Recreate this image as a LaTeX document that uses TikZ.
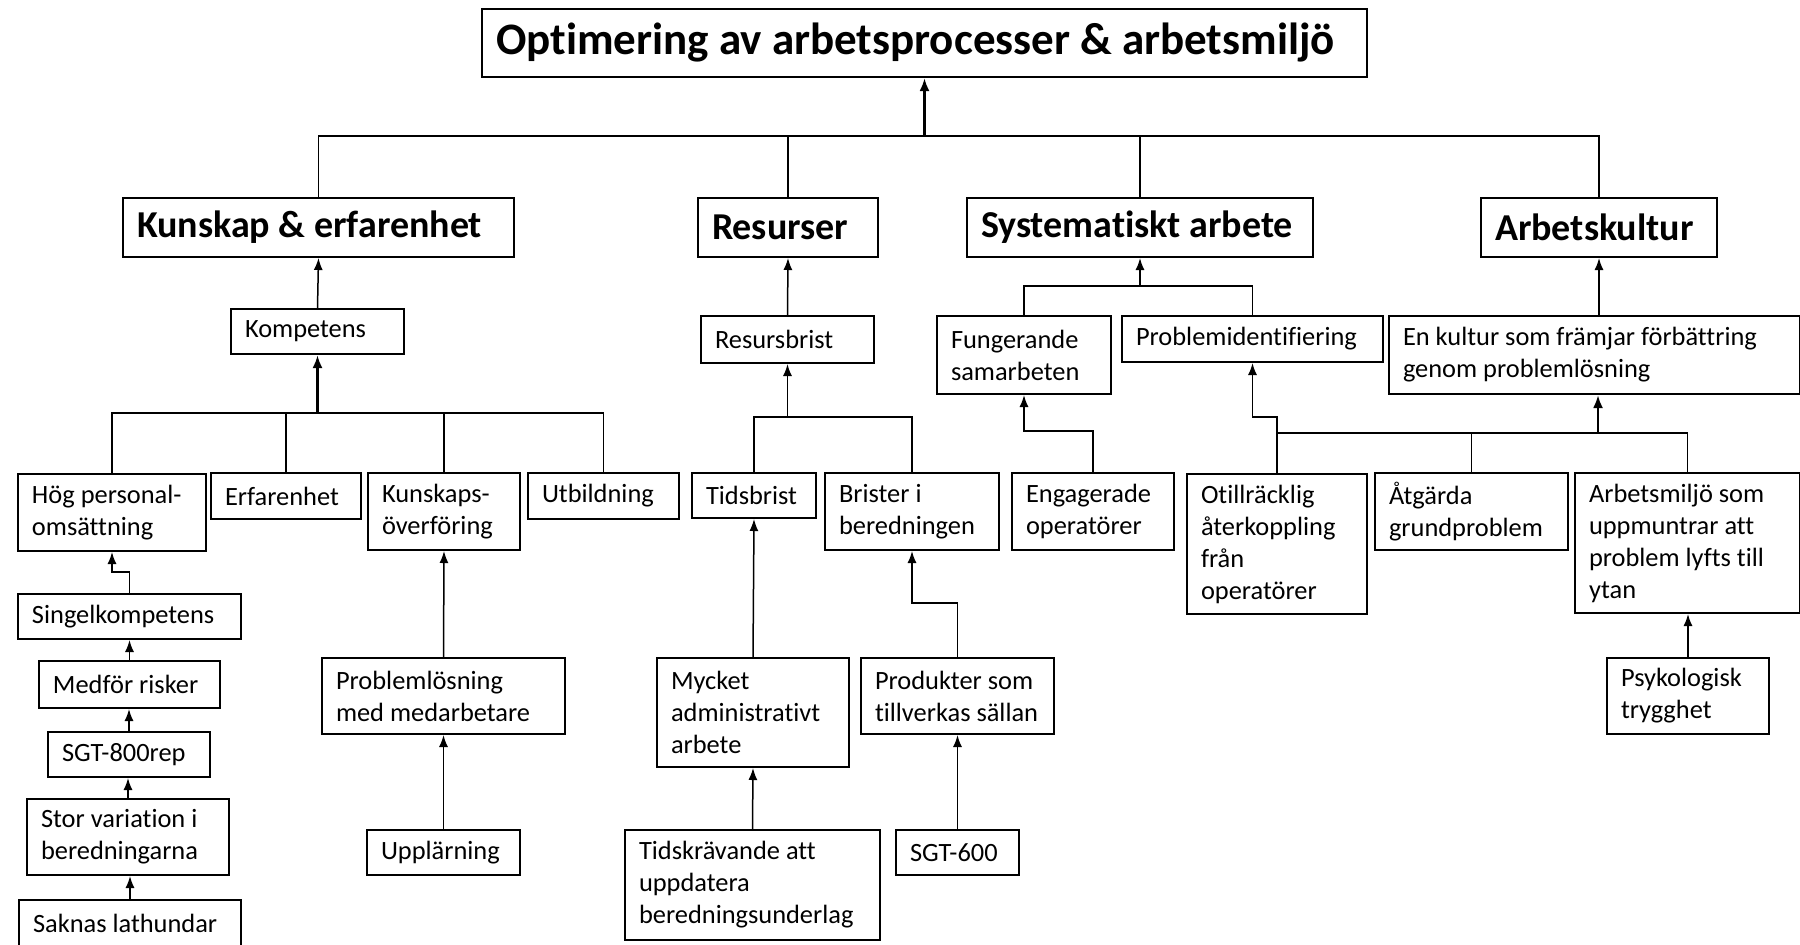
\documentclass[tikz,border=0pt]{standalone}
\usepackage{fontspec}
\setmainfont{Carlito}[Ligatures=NoCommon]
\usetikzlibrary{arrows.meta}
\tikzset{
  box/.style={draw=black,line width=1pt,rectangle,inner xsep=7pt,inner ysep=0pt,align=flush left,fill=white},
  body/.style={font=\fontsize{13.2}{16}\selectfont},
  head/.style={font=\fontsize{19}{22}\selectfont\bfseries},
  ttl/.style={font=\fontsize{22.5}{26}\selectfont\bfseries},
  ln/.style={line width=0.75pt,black},
  arr/.style={line width=0.75pt,black,-{Latex[length=6pt,width=4.5pt]}},
  tarr/.style={line width=1.3pt,black,-{Latex[length=6.5pt,width=5pt]}}
}
\newcommand\bx[7]{%
  \pgfmathsetmacro\bxw{(#5-#3)*0.5}%
  \pgfmathsetmacro\bxh{(#6-#4)*0.5}%
  \pgfmathsetmacro\bxt{(#5-#3-28)*0.5}%
  \node[box,#1,minimum width=\bxw pt,minimum height=\bxh pt,text width=\bxt pt,anchor=north west] (#2) at (#3,#4) {#7};}
\begin{document}
\begin{tikzpicture}[x=0.5pt,y=-0.5pt]
\useasboundingbox (0,0) rectangle (1800,944);
\clip (0,0) rectangle (1800,944);
% boxes
\bx{ttl}{title}{481}{8}{1366}{76}{Optimering av arbetsprocesser \& arbetsmiljö}
\bx{head}{kunskap}{122}{197}{513}{256}{Kunskap \& erfarenhet}
\bx{head}{resurser}{697}{197}{877}{256}{Resurser}
\bx{head}{system}{966}{197}{1312}{256}{Systematiskt arbete}
\bx{head}{akultur}{1480}{197}{1716}{256}{Arbetskultur}
\bx{body}{kompetens}{230}{308}{403}{353}{Kompetens}
\bx{body}{resursbrist}{700}{315}{873}{362}{Resursbrist}
\bx{body}{fung}{936}{315}{1110}{393}{Fungerande\\samarbeten}
\bx{body}{probid}{1121}{315}{1382}{361}{Problemidentifiering}
\bx{body}{kultur}{1388}{315}{1799}{393}{En kultur som främjar förbättring\\genom problemlösning}
\bx{body}{hog}{17}{473}{205}{550}{Hög personal-\\omsättning}
\bx{body}{erf}{210}{472}{360}{518}{Erfarenhet}
\bx{body}{kov}{367}{472}{519}{549}{Kunskaps-\\överföring}
\bx{body}{utb}{527}{472}{678}{518}{Utbildning}
\bx{body}{tids}{691}{472}{815}{517}{Tidsbrist}
\bx{body}{brister}{824}{472}{998}{549}{Brister i\\beredningen}
\bx{body}{eng}{1011}{472}{1173}{549}{Engagerade\\operatörer}
\bx{body}{otill}{1186}{473}{1366}{613}{Otillräcklig\\återkoppling\\från\\operatörer}
\bx{body}{atg}{1374}{472}{1567}{549}{Åtgärda\\grundproblem}
\bx{body}{arbm}{1574}{472}{1799}{612}{Arbetsmiljö som\\uppmuntrar att\\problem lyfts till\\ytan}
\bx{body}{singel}{17}{593}{240}{638}{Singelkompetens}
\bx{body}{medfor}{38}{660}{219}{707}{Medför risker}
\bx{body}{sgt8}{47}{731}{209}{776}{SGT-800rep}
\bx{body}{stor}{26}{798}{228}{874}{Stor variation i\\beredningarna}
\bx{body}{saknas}{18}{899}{240}{946}{Saknas lathundar}
\bx{body}{plos}{321}{657}{564}{733}{Problemlösning\\med medarbetare}
\bx{body}{uppl}{366}{829}{519}{874}{Upplärning}
\bx{body}{mycket}{656}{657}{848}{766}{Mycket\\administrativt\\arbete}
\bx{body}{prod}{860}{657}{1053}{733}{Produkter som\\tillverkas sällan}
\bx{body}{tidskr}{624}{829}{879}{939}{Tidskrävande att\\uppdatera\\beredningsunderlag}
\bx{body}{sgt6}{895}{829}{1018}{874}{SGT-600}
\bx{body}{psyk}{1606}{657}{1768}{733}{Psykologisk\\trygghet}
% bus coordinates
\coordinate (tb) at (924,136);
\coordinate (kb) at (317,413);
\coordinate (rb) at (787,417);
\coordinate (sb) at (1139,286);
\coordinate (cb) at (1598,433);
% top level
\draw[ln] (kunskap.north) -- (kunskap.north |- tb) -- (akultur.north |- tb) -- (akultur.north);
\draw[ln] (resurser.north) -- (resurser.north |- tb);
\draw[ln] (system.north) -- (system.north |- tb);
\draw[tarr] (title.south |- tb) -- (title.south);
% kunskap branch
\draw[arr] (kompetens.north) -- (kunskap.south);
\draw[ln] (hog.north) -- (hog.north |- kb) -- (utb.north |- kb) -- (utb.north);
\draw[ln] (erf.north) -- (erf.north |- kb);
\draw[ln] (kov.north) -- (kov.north |- kb);
\draw[tarr] (kompetens.south |- kb) -- (kompetens.south);
\draw[arr] (singel.north) -- ++(0,-21) -| (hog.south);
\draw[arr] (medfor.north) -- (medfor.north |- singel.south);
\draw[arr] (sgt8.north) -- (sgt8.north |- medfor.south);
\draw[arr] (stor.north) -- (stor.north |- sgt8.south);
\draw[arr] (saknas.north) -- (saknas.north |- stor.south);
\draw[arr] (plos.north) -- (kov.south);
\draw[arr] (uppl.north) -- (plos.south);
% resurser branch
\draw[arr] (resursbrist.north) -- (resurser.south);
\draw[ln] (tids.north) -- (tids.north |- rb) -- (brister.north |- rb) -- (brister.north);
\draw[arr] (resursbrist.south |- rb) -- (resursbrist.south);
\draw[arr] (mycket.north) -- (tids.south);
\draw[arr] (tidskr.north) -- (mycket.south);
\draw[arr] (prod.north) -- ++(0,-54) -| (brister.south);
\draw[arr] (sgt6.north) -- (prod.south);
% systematiskt branch
\draw[ln] (fung.north) -- (fung.north |- sb) -- (probid.north |- sb) -- (probid.north);
\draw[arr] (system.south |- sb) -- (system.south);
\draw[arr] (eng.north) -- ++(0,-41) -| (fung.south);
\draw[arr] (otill.north) -- ++(0,-56) -| (probid.south);
% arbetskultur branch
\draw[arr] (kultur.north -| akultur.south) -- (akultur.south);
\draw[ln] (otill.north |- cb) -- (arbm.north |- cb) -- (arbm.north);
\draw[ln] (atg.north) -- (atg.north |- cb);
\draw[tarr] (cb) -- (cb |- kultur.south);
\draw[arr] (psyk.north) -- (psyk.north |- arbm.south);
\end{tikzpicture}
\end{document}
